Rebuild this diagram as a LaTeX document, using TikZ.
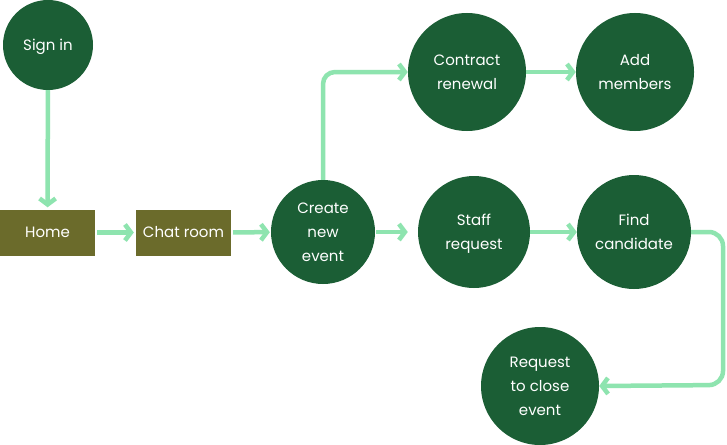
\documentclass[tikz,border=0pt]{standalone}
\usepackage{fontspec}
\setmainfont{Poppins}
\usetikzlibrary{arrows.meta}
\definecolor{cgreen}{HTML}{1B5E35}
\definecolor{olivebox}{HTML}{6B6B2B}
\definecolor{arrgreen}{HTML}{8EE4AF}
\begin{document}
\begin{tikzpicture}[x=1pt,y=-1pt,
  circ/.style={circle,fill=cgreen,text=white,align=center,inner sep=0pt,text depth=0pt,font=\fontsize{15}{24}\selectfont},
  rbox/.style={rectangle,fill=olivebox,text=white,minimum width=95pt,minimum height=46pt,inner sep=0pt,font=\fontsize{15}{24}\selectfont},
  flow/.style={draw=arrgreen,line width=4.5pt,-{Straight Barb[length=6pt,width=16pt]}}]
\fill[white] (0,0) rectangle (727,444);
\useasboundingbox (0,0) rectangle (727,444);
\node[circ,minimum size=90pt] (sign) at (48,45) {Sign in};
\node[rbox] (home) at (47.5,232.5) {Home};
\node[rbox] (chat) at (183.5,232.5) {Chat room};
\node[circ,minimum size=104pt] (create) at (323,232) {Create\\new\\event};
\node[circ,minimum size=112pt] (staff) at (474,232) {Staff\\request};
\node[circ,minimum size=114pt] (find) at (634,232) {Find\\candidate};
\node[circ,minimum size=118pt] (contract) at (467,72) {Contract\\renewal};
\node[circ,minimum size=118pt] (add) at (635,72) {Add\\members};
\node[circ,minimum size=118pt] (req) at (540,386) {Request\\to close\\event};
\coordinate (turn) at (723,385);
\draw[flow,shorten >=2pt] (sign) -- (home);
\draw[flow,shorten <=2pt,shorten >=2pt] (home) -- (chat);
\draw[flow,shorten <=2pt,shorten >=1pt] (chat) -- (create);
\draw[flow,shorten <=1pt,shorten >=10pt] (create) -- (staff);
\draw[flow] (staff) -- (find);
\draw[flow] (contract) -- (add);
\draw[flow,rounded corners=12pt] (create.north) |- (contract.west);
\draw[flow,rounded corners=14pt] (find.east) -| (turn) -- (req.east);
\end{tikzpicture}
\end{document}
